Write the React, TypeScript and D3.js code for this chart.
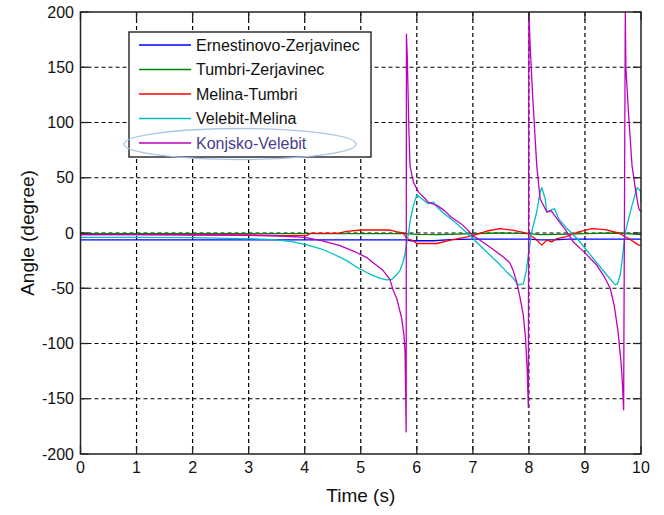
import React from "react";
import * as d3 from "d3";

// Time (s) / angle (degree) samples for each line
const ernestinovoZerjavinec: [number, number][] = [
  [0, -6.3], [5.8, -6.3], [5.9, -7], [6.3, -7], [6.6, -6], [7, -5.5], [8, -5.5],
  [8.2, -6.2], [8.45, -6.2], [8.7, -5.5], [10, -5.5],
];

const tumbriZerjavinec: [number, number][] = [
  [0, -0.5], [3, -0.5], [5.8, -0.5], [6.0, -1.2], [6.4, -1.5], [6.9, -0.8], [7.5, 0],
  [8.0, -0.6], [8.2, -1.5], [8.5, -1.2], [9.0, -0.5], [9.6, 0], [10, -1.5],
];

const melinaTumbri: [number, number][] = [
  [0, -1.5], [1, -1.5], [2, -1.5], [3, -1.8], [3.56, -2.5], [4.04, -2.2], [4.1, -0.4],
  [4.58, -0.4], [4.75, 1.5], [5.0, 2.7], [5.52, 2.7], [5.65, 1], [5.76, 0], [5.82, -5],
  [5.93, -7], [6.0, -9.5], [6.36, -9.5], [6.6, -6.5], [6.9, -3.5], [7.07, -1.2],
  [7.25, 1.8], [7.49, 4], [7.73, 2.4], [7.99, -0.6], [8.11, -5], [8.23, -11], [8.32, -6.5],
  [8.41, -8], [8.5, -5], [8.65, -3.5], [8.89, 1], [9.12, 4], [9.36, 3], [9.6, 0],
  [9.78, -5], [9.96, -11], [10, -11],
];

const velebitMelina: [number, number][] = [
  [0, -4], [1, -4], [2, -4.2], [2.85, -5], [3.2, -5.5], [3.44, -6], [3.74, -7.5],
  [4.03, -10.5], [4.3, -14.5], [4.51, -19], [4.75, -25], [4.93, -31], [5.1, -35.5],
  [5.22, -38.5], [5.35, -41], [5.46, -42.5], [5.55, -42], [5.62, -39], [5.7, -34],
  [5.75, -27], [5.79, -19], [5.82, -9], [5.85, -1], [5.88, 11], [5.94, 25], [6.0, 34.5],
  [6.09, 31], [6.2, 26.5], [6.3, 28], [6.36, 23.5], [6.5, 17], [6.68, 10], [6.85, 2],
  [7.0, -5], [7.2, -15], [7.43, -26], [7.6, -35], [7.72, -41], [7.81, -47], [7.9, -46],
  [7.95, -35], [7.99, -20], [8.05, 1], [8.14, 19], [8.2, 37], [8.23, 41], [8.29, 31],
  [8.32, 19], [8.38, 20.5], [8.46, 22], [8.53, 13], [8.68, 4], [8.86, -5], [9.1, -20],
  [9.39, -38], [9.54, -47], [9.58, -46], [9.63, -38], [9.66, -26], [9.72, 1], [9.84, 25],
  [9.93, 41], [9.99, 38], [10, 28],
];

const konjskoVelebit: [number, number][] = [
  [0, -1.5], [1, -1.5], [2, -1.8], [3, -2.2], [3.5, -2.5], [4.0, -4], [4.3, -7],
  [4.63, -11.5], [4.9, -17], [5.1, -22], [5.25, -28], [5.4, -34], [5.52, -42],
  [5.58, -52], [5.64, -59], [5.73, -77], [5.77, -92], [5.79, -107], [5.81, -180],
  [5.815, 180], [5.83, 160], [5.86, 91], [5.88, 60], [5.94, 46], [6.03, 37], [6.15, 31],
  [6.2, 28], [6.36, 25], [6.5, 20], [6.6, 15], [6.8, 8], [7.0, -2], [7.2, -9],
  [7.42, -17], [7.55, -22], [7.66, -27], [7.72, -34], [7.78, -44], [7.84, -58],
  [7.9, -74], [7.94, -95], [7.97, -125], [7.99, -158], [8.0, 200], [8.02, 172],
  [8.07, 121], [8.14, 61], [8.2, 31], [8.32, 19], [8.4, 20], [8.5, 13], [8.65, 3],
  [8.79, -8], [9.0, -18], [9.21, -29], [9.35, -40], [9.45, -50], [9.52, -65],
  [9.59, -89], [9.64, -115], [9.66, -128], [9.69, -160], [9.72, 200], [9.73, 150],
  [9.78, 106], [9.84, 61], [9.9, 40], [9.96, 22], [10, 19],
];

const seriesNames = [
  "Ernestinovo-Zerjavinec",
  "Tumbri-Zerjavinec",
  "Melina-Tumbri",
  "Velebit-Melina",
  "Konjsko-Velebit",
];
const seriesData = [
  ernestinovoZerjavinec,
  tumbriZerjavinec,
  melinaTumbri,
  velebitMelina,
  konjskoVelebit,
];
const seriesColors = ["#0000ff", "#008000", "#ff0000", "#00bfbf", "#bf00bf"];

const xTicks = [0, 1, 2, 3, 4, 5, 6, 7, 8, 9, 10];
const yTicks = [-200, -150, -100, -50, 0, 50, 100, 150, 200];

const W = 664;
const H = 515;
const FONT = "'Liberation Sans', Arial, Helvetica, sans-serif";

export default function App() {
  const left = 80.5;
  const right = 641;
  const top = 12;
  const bottom = 454;

  const x = d3.scaleLinear().domain([0, 10]).range([left, right]);
  const y = d3.scaleLinear().domain([-200, 200]).range([bottom, top]);

  const line = d3
    .line<[number, number]>()
    .x((d) => x(d[0]))
    .y((d) => y(d[1]));

  const tickLen = 8;
  const legend = { x: 129, y: 32, w: 242, h: 125 };
  const rowY = (i: number) => 45 + i * 24.5;

  return (
    <svg
      width={W}
      height={H}
      style={{ position: "absolute", left: 0, top: 0, background: "#fff" }}
      fontFamily={FONT}
    >
      <rect x={0} y={0} width={W} height={H} fill="#fff" />
      <defs>
        <clipPath id="plotArea">
          <rect x={left} y={top} width={right - left} height={bottom - top} />
        </clipPath>
      </defs>

      {/* dotted grid */}
      <g stroke="#000" strokeWidth={1.2} strokeDasharray="4,3">
        {xTicks.slice(1, -1).map((t) => (
          <line key={"gx" + t} x1={x(t)} x2={x(t)} y1={top} y2={bottom} />
        ))}
        {yTicks.slice(1, -1).map((t) => (
          <line key={"gy" + t} x1={left} x2={right} y1={y(t)} y2={y(t)} />
        ))}
      </g>

      {/* series */}
      <g clipPath="url(#plotArea)" fill="none" strokeWidth={1.3} strokeLinejoin="round">
        {seriesData.map((d, i) => (
          <path key={seriesNames[i]} d={line(d) || ""} stroke={seriesColors[i]} />
        ))}
      </g>

      {/* ticks on all four sides */}
      <g stroke="#222" strokeWidth={1.3}>
        {xTicks.map((t) => (
          <g key={"tx" + t}>
            <line x1={x(t)} x2={x(t)} y1={bottom} y2={bottom - tickLen} />
            <line x1={x(t)} x2={x(t)} y1={top} y2={top + tickLen} />
          </g>
        ))}
        {yTicks.map((t) => (
          <g key={"ty" + t}>
            <line x1={left} x2={left + tickLen} y1={y(t)} y2={y(t)} />
            <line x1={right} x2={right - tickLen} y1={y(t)} y2={y(t)} />
          </g>
        ))}
      </g>

      {/* frame */}
      <rect
        x={left}
        y={top}
        width={right - left}
        height={bottom - top}
        fill="none"
        stroke="#222"
        strokeWidth={1.5}
      />

      {/* tick labels */}
      <g fontSize={16} fill="#111">
        {xTicks.map((t) => (
          <text key={"lx" + t} x={x(t)} y={473} textAnchor="middle">
            {t}
          </text>
        ))}
        {yTicks.map((t) => (
          <text key={"ly" + t} x={74} y={y(t)} textAnchor="end" dominantBaseline="central">
            {t}
          </text>
        ))}
      </g>

      {/* axis titles */}
      <text x={(left + right) / 2} y={502} textAnchor="middle" fontSize={19} fill="#111">
        Time (s)
      </text>
      <text
        transform={`translate(27,${y(0)}) rotate(-90)`}
        textAnchor="middle"
        dominantBaseline="central"
        fontSize={19}
        fill="#111"
      >
        Angle (degree)
      </text>

      {/* legend */}
      <rect
        x={legend.x}
        y={legend.y}
        width={legend.w}
        height={legend.h}
        fill="#fff"
        stroke="#111"
        strokeWidth={1.3}
      />
      {seriesNames.map((name, i) => (
        <g key={"lg" + name}>
          <line
            x1={139}
            x2={191}
            y1={rowY(i)}
            y2={rowY(i)}
            stroke={seriesColors[i]}
            strokeWidth={1.3}
          />
          <text
            x={196}
            y={rowY(i)}
            dominantBaseline="central"
            fontSize={16}
            fill={i === 4 ? "#4b3d8f" : "#111"}
          >
            {name}
          </text>
        </g>
      ))}
      <ellipse
        cx={240}
        cy={144}
        rx={116}
        ry={15.5}
        fill="none"
        stroke="#a8c6e6"
        strokeWidth={1.3}
      />
    </svg>
  );
}
